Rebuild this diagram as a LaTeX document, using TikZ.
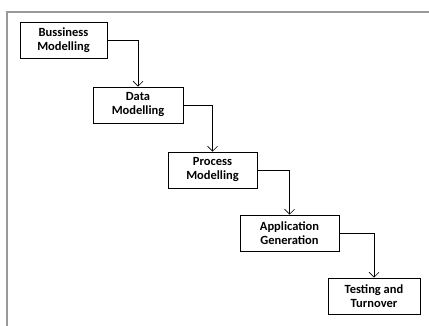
\documentclass[tikz,border=0pt]{standalone}
\usepackage{fontspec}
\setmainfont{Carlito}
\usetikzlibrary{positioning,arrows.meta}
\tikzset{
  stage/.style={draw,thick,rectangle,minimum height=36pt,align=center,
    font=\fontsize{12.5}{14}\selectfont\bfseries,inner sep=2pt},
  flow/.style={draw,semithick,-{Straight Barb[length=5pt,width=10pt]}}
}

\begin{document}
\begin{tikzpicture}[x=1pt,y=-1pt]
  \useasboundingbox (0,0) rectangle (429,326);
  % Outer frame (cut off at right and bottom)
  \coordinate (fr) at (430,12);
  \coordinate (fb) at (7,327);
  \draw[gray!80,line width=1.5pt] (fr) -- (7,12) -- (fb);

  % The stages, each one below right of the one before
  \node [stage,minimum width=87pt] (bm) at (63.5,40.5) {Bussiness\\Modelling};
  \node [stage,minimum width=90pt,on grid,below right=64.5pt and 74.5pt of bm] (dm) {Data\\Modelling};
  \node [stage,minimum width=89pt,on grid,below right=65pt and 74.5pt of dm] (pm) {Process\\Modelling};
  \node [stage,minimum width=99pt,on grid,below right=63pt and 77pt of pm] (ag) {Application\\Generation};
  \node [stage,minimum width=92pt,on grid,below right=63pt and 84.5pt of ag] (tt) {Testing and\\Turnover};

  % Connectors
  \draw[flow] (bm.east) -| (dm.north);
  \draw[flow] (dm.east) -| (pm.north);
  \draw[flow] (pm.east) -| (ag.north);
  \draw[flow] (ag.east) -| (tt.north);
\end{tikzpicture}
\end{document}
